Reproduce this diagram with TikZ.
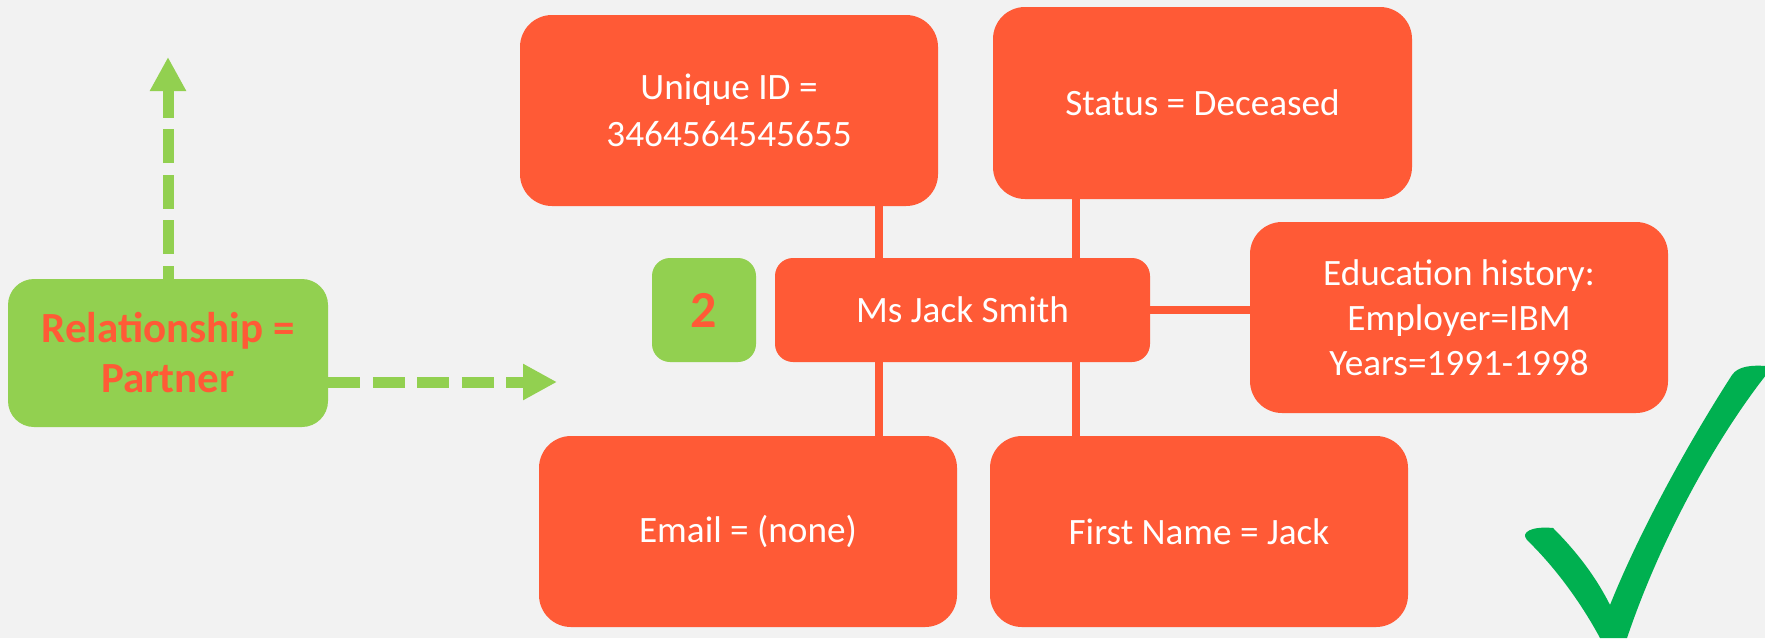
\documentclass[tikz,border=0pt]{standalone}
\usepackage{fontspec}
\setmainfont{Carlito}
\usetikzlibrary{arrows.meta}
\definecolor{bgc}{HTML}{F2F2F2}
\definecolor{org}{HTML}{FF5A36}
\definecolor{grn}{HTML}{92D050}
\definecolor{chk}{HTML}{00B050}
\tikzset{
  obox/.style={fill=org, text=white, draw=none, rounded corners=16pt, align=center,
    minimum width=209pt, minimum height=95.5pt, inner sep=0pt,
    font=\fontsize{18.6}{23.5}\selectfont},
  sbox/.style={obox, rounded corners=9pt, minimum width=187.5pt, minimum height=52pt},
  gbox/.style={fill=grn, text=org, draw=none, align=center, inner sep=0pt},
  conn/.style={draw=org, line width=4pt},
  garrow/.style={draw=grn, line width=5.5pt, -{Triangle[length=17pt,width=17pt]}}
}
\begin{document}
\begin{tikzpicture}[x=0.5pt,y=-0.5pt]
\useasboundingbox (0,0) rectangle (1765,638);
\fill[bgc] (0,0) rectangle (1765,638);

% boxes
\node[obox] (uid) at (729,110.5) {Unique ID =\\3464564545655};
\node[obox, minimum width=209.5pt, minimum height=96pt] (status) at (1202.5,103) {Status = Deceased};
\node[sbox] (mjs) at (962.5,310) {Ms Jack Smith};
\node[gbox, rounded corners=9pt, minimum width=52pt, minimum height=52pt,
      font=\fontsize{26}{30}\selectfont\bfseries] (two) at (704,310) {2};
\node[obox, font=\fontsize{18.6}{22.5}\selectfont] (edu) at (1459,317.5) {Education history:\\Employer=IBM\\Years=1991-1998};
\node[obox] (email) at (748,531.5) {Email = (none)};
\node[obox] (fname) at (1199,531.5) {First Name = Jack};
\node[gbox, rounded corners=13pt, minimum width=160pt, minimum height=74pt,
      font=\fontsize{21.5}{25}\selectfont\bfseries] (rel) at (168,353) {Relationship =\\Partner};

% connectors
\coordinate (xl) at (879,0);
\coordinate (xr) at (1075.5,0);
\draw[conn] (uid.south -| xl) -- (mjs.north -| xl);
\draw[conn] (mjs.south -| xl) -- (email.north -| xl);
\draw[conn] (status.south -| xr) -- (mjs.north -| xr);
\draw[conn] (mjs.south -| xr) -- (fname.north -| xr);
\draw[conn] (mjs.east) -- (mjs.east -| edu.west);

% green dashed arrows
\coordinate (uptip) at (168,57);
\coordinate (rtip) at (557,382);
\draw[garrow, dash pattern=on 17pt off 5.75pt, dash phase=10.5pt] (rel.north) -- (uptip);
\draw[garrow, dash pattern=on 16pt off 6.25pt] (rel.east |- rtip) -- (rtip);

% check mark
\fill[chk] (1600,638) .. controls (1585,610) and (1560,572) .. (1527,540)
  .. controls (1520,532) and (1532,526) .. (1553,528)
  .. controls (1575,550) and (1595,575) .. (1610,605)
  .. controls (1640,530) and (1690,440) .. (1732,375)
  .. controls (1738,366) and (1752,365) .. (1766,366)
  -- (1766,375)
  .. controls (1715,440) and (1660,540) .. (1627,638)
  -- cycle;
\end{tikzpicture}
\end{document}
